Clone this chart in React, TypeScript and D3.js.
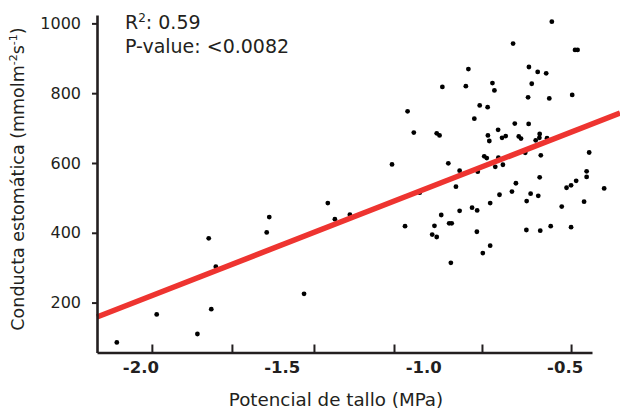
import React, { useEffect, useRef } from 'react'
import * as d3 from 'd3'

// potencial de tallo (MPa), one per point
const potencial = [
  -2.085, -1.944, -1.800, -1.760, -1.751, -1.735, -1.555, -1.546, -1.423, -1.339,
  -1.314, -1.261, -1.112, -1.066, -1.057, -1.035, -1.014, -0.970, -0.954, -0.962,
  -0.954, -0.944, -0.938, -0.934, -0.913, -0.910, -0.901, -0.904, -0.886, -0.873,
  -0.873, -0.851, -0.842, -0.829, -0.821, -0.812, -0.811, -0.809, -0.802, -0.791,
  -0.786, -0.777, -0.774, -0.773, -0.768, -0.765, -0.765, -0.757, -0.750, -0.747,
  -0.737, -0.736, -0.732, -0.723, -0.720, -0.710, -0.688, -0.684, -0.678, -0.674,
  -0.664, -0.656, -0.641, -0.637, -0.636, -0.631, -0.629, -0.628, -0.622, -0.618,
  -0.604, -0.597, -0.595, -0.591, -0.590, -0.590, -0.588, -0.586, -0.567, -0.564,
  -0.556, -0.551, -0.547, -0.512, -0.495, -0.479, -0.479, -0.475, -0.465, -0.456,
  -0.461, -0.433, -0.424, -0.424, -0.415, -0.362
]
// conductancia estomática (mmol m-2 s-1)
const conductancia = [
  86, 166, 110, 384, 181, 303, 401, 445, 225, 485,
  439, 452, 596, 419, 748, 687, 515, 395, 388, 420,
  685, 679, 451, 818, 599, 427, 427, 314, 532, 578,
  463, 820, 869, 472, 727, 403, 464, 575, 765, 342,
  619, 614, 760, 679, 663, 485, 363, 829, 808, 589,
  695, 615, 509, 672, 595, 677, 518, 942, 713, 542,
  676, 670, 629, 408, 491, 788, 712, 875, 512, 827,
  665, 861, 506, 672, 683, 559, 406, 622, 857, 671,
  785, 419, 1005, 475, 529, 536, 416, 795, 924, 924,
  549, 489, 576, 560, 630, 527
]

const yTicks = [200, 400, 600, 800, 1000]
const xLabels = [-2.0, -1.5, -1.0, -0.5]
// small tick marks on the x axis (they don't sit on the labels in the original)
const xTickMarks = [-1.961, -1.678, -1.388, -1.105, -0.794, -0.479]

// regression
const fitSlope = 316.1
const fitIntercept = 839.9
const fitFrom = -2.155
const fitTo = -0.306
const r2 = '0.59'
const pValue = '<0.0082'

const ink = '#231f20'
const font = '"DejaVu Sans", sans-serif'

export default function App() {
  const ref = useRef<SVGSVGElement>(null)

  useEffect(() => {
    const svg = d3.select(ref.current)
    svg.selectAll('*').remove()

    const x = d3.scaleLinear().domain([-2.155, -0.405]).range([97, 592])
    const y = d3.scaleLinear().domain([57, 1024]).range([352.5, 15])

    // points
    const pts = potencial.map((p, i) => ({ p, c: conductancia[i] }))
    svg.append('g')
      .selectAll('circle')
      .data(pts)
      .enter().append('circle')
      .attr('cx', d => x(d.p))
      .attr('cy', d => y(d.c))
      .attr('r', 2.4)
      .attr('fill', '#000')

    // regression line
    svg.append('line')
      .attr('x1', x(fitFrom))
      .attr('y1', y(fitSlope * fitFrom + fitIntercept))
      .attr('x2', x(fitTo))
      .attr('y2', y(fitSlope * fitTo + fitIntercept))
      .attr('stroke', '#ee3430')
      .attr('stroke-width', 5.5)

    // y axis
    const yAxis = svg.append('g')
      .attr('transform', 'translate(97,0)')
      .call(d3.axisLeft(y).tickValues(yTicks).tickSize(5).tickSizeOuter(0).tickPadding(11).tickFormat(d3.format('d')))
    yAxis.select('.domain').attr('stroke', ink).attr('stroke-width', 2.6)
    yAxis.selectAll('.tick line').attr('stroke', ink).attr('stroke-width', 2)
    yAxis.selectAll('.tick text')
      .attr('fill', ink)
      .style('font-family', font)
      .style('font-size', '16px')

    // x axis
    const xAxis = svg.append('g')
      .attr('transform', 'translate(0,352.5)')
      .call(d3.axisBottom(x).tickValues(xTickMarks).tickSize(-8).tickSizeOuter(0).tickFormat(() => ''))
    xAxis.select('.domain').attr('stroke', ink).attr('stroke-width', 2.6)
    xAxis.selectAll('.tick line').attr('stroke', ink).attr('stroke-width', 2)

    svg.append('g')
      .selectAll('text')
      .data(xLabels)
      .enter().append('text')
      .attr('x', d => x(d))
      .attr('y', 373)
      .attr('text-anchor', 'middle')
      .attr('fill', ink)
      .style('font-family', font)
      .style('font-size', '16.5px')
      .style('font-weight', 'bold')
      .text(d => d.toFixed(1))

    // axis titles
    svg.append('text')
      .attr('x', 336)
      .attr('y', 406)
      .attr('text-anchor', 'middle')
      .attr('fill', ink)
      .style('font-family', font)
      .style('font-size', '18.3px')
      .text('Potencial de tallo (MPa)')

    const yt = svg.append('text')
      .attr('transform', 'translate(24,179) rotate(-90)')
      .attr('text-anchor', 'middle')
      .attr('fill', ink)
      .style('font-family', font)
      .style('font-size', '17.5px')
    yt.append('tspan').text('Conducta estomática (mmolm')
    yt.append('tspan').attr('dy', -7).style('font-size', '11px').text('-2')
    yt.append('tspan').attr('dy', 7).text('s')
    yt.append('tspan').attr('dy', -7).style('font-size', '11px').text('-1')
    yt.append('tspan').attr('dy', 7).text(')')

    // stats
    const s1 = svg.append('text')
      .attr('x', 125)
      .attr('y', 29)
      .attr('fill', ink)
      .style('font-family', font)
      .style('font-size', '19px')
    s1.append('tspan').text('R')
    s1.append('tspan').attr('dy', -7).style('font-size', '12px').text('2')
    s1.append('tspan').attr('dy', 7).text(': ' + r2)

    svg.append('text')
      .attr('x', 125)
      .attr('y', 53)
      .attr('fill', ink)
      .style('font-family', font)
      .style('font-size', '19px')
      .text('P-value: ' + pValue)
  }, [])

  return (
    <svg ref={ref} width={620} height={410}
      style={{ position: 'absolute', left: 0, top: 0, background: '#fff' }} />
  )
}
